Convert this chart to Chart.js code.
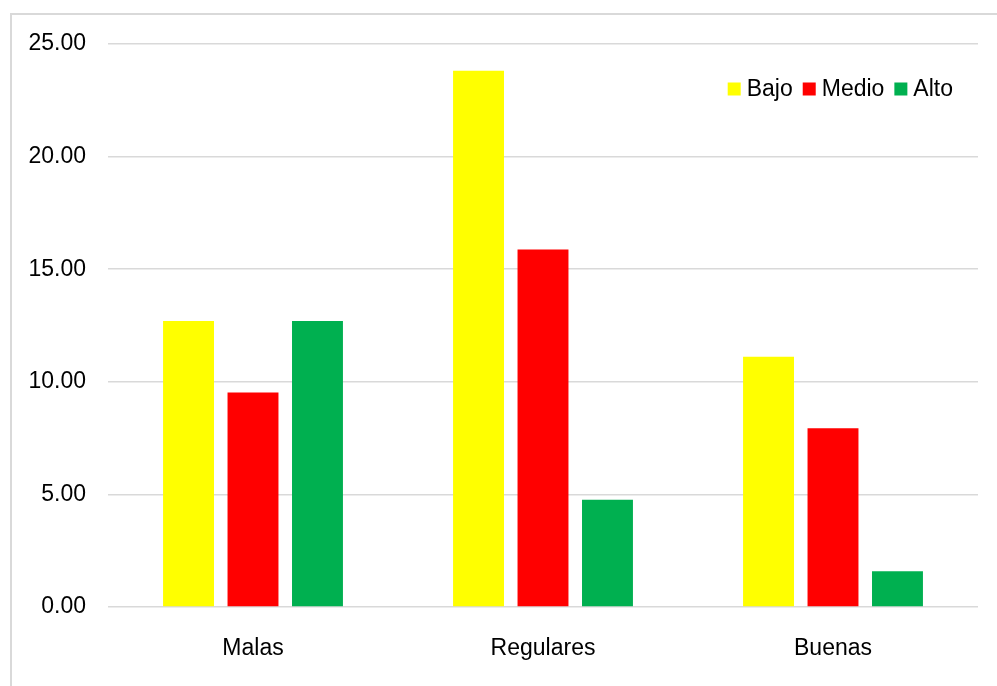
<!DOCTYPE html>
<html>
<head>
<meta charset="utf-8">
<script src="https://cdn.jsdelivr.net/npm/chart.js@4/dist/chart.umd.min.js"></script>
<style>
    html, body { margin: 0; padding: 0; background: #fff; overflow: hidden; }
    #frame {
        position: absolute; left: 10px; top: 13px;
        width: 1000px; height: 700px;
        border: 2px solid #d9d9d9;
    }
    #wrap { position: absolute; left: 0; top: 0; width: 997px; height: 686px; }
</style>
</head>
<body>
<div id="frame"></div>
<div id="wrap"><canvas id="nivelesChart" width="997" height="686"></canvas></div>
<script>
const categorias = ['Malas', 'Regulares', 'Buenas'];
const bajo = [12.70, 23.81, 11.11];
const medio = [9.52, 15.87, 7.94];
const alto = [12.70, 4.76, 1.59];
const yTicks = [0, 5, 10, 15, 20, 25];

const FONT = '"Liberation Sans", Arial, sans-serif';

// Legend drawn inside the plot, top right
const insideLegend = {
    id: 'insideLegend',
    afterDraw(chart) {
        const ctx = chart.ctx;
        const box = 13, gapText = 6, gapItem = 10;
        const right = 953, cy = 89;
        ctx.save();
        ctx.font = '23px ' + FONT;
        ctx.textBaseline = 'middle';
        const items = chart.data.datasets.map(ds => ({
            text: ds.label,
            color: ds.backgroundColor,
            w: box + gapText + ctx.measureText(ds.label).width
        }));
        let total = items.reduce((s, it) => s + it.w, 0) + gapItem * (items.length - 1);
        let x = right - total;
        items.forEach(it => {
            ctx.fillStyle = it.color;
            ctx.fillRect(x, cy - box / 2, box, box);
            ctx.fillStyle = '#000';
            ctx.fillText(it.text, x + box + gapText, cy + 1);
            x += it.w + gapItem;
        });
        ctx.restore();
    }
};

const ctx = document.getElementById('nivelesChart').getContext('2d');
const nivelesChart = new Chart(ctx, {
    type: 'bar',
    data: {
        labels: categorias,
        datasets: [
            { label: 'Bajo', data: bajo, backgroundColor: '#ffff00' },
            { label: 'Medio', data: medio, backgroundColor: '#ff0000' },
            { label: 'Alto', data: alto, backgroundColor: '#00b050' }
        ]
    },
    options: {
        responsive: false,
        animation: false,
        devicePixelRatio: 1,
        categoryPercentage: 0.667,
        barPercentage: 0.79,
        layout: {
            padding: { top: 44, right: 19, left: 0, bottom: 0 }
        },
        plugins: {
            legend: { display: false },
            tooltip: { enabled: false }
        },
        scales: {
            x: {
                grid: { display: false },
                border: { display: false },
                ticks: {
                    color: '#000',
                    padding: 20,
                    font: { family: FONT, size: 23 }
                },
                afterFit: scale => { scale.height = 79; }
            },
            y: {
                min: 0,
                max: 25,
                afterBuildTicks: scale => {
                    scale.ticks = yTicks.map(v => ({ value: v }));
                },
                afterFit: scale => { scale.width = 108; },
                grid: {
                    color: '#d9d9d9',
                    lineWidth: 1.5,
                    drawTicks: false
                },
                border: { display: false },
                ticks: {
                    color: '#000',
                    padding: 22,
                    font: { family: FONT, size: 23 },
                    callback: value => value.toFixed(2)
                }
            }
        }
    },
    plugins: [insideLegend]
});
</script>
</body>
</html>
